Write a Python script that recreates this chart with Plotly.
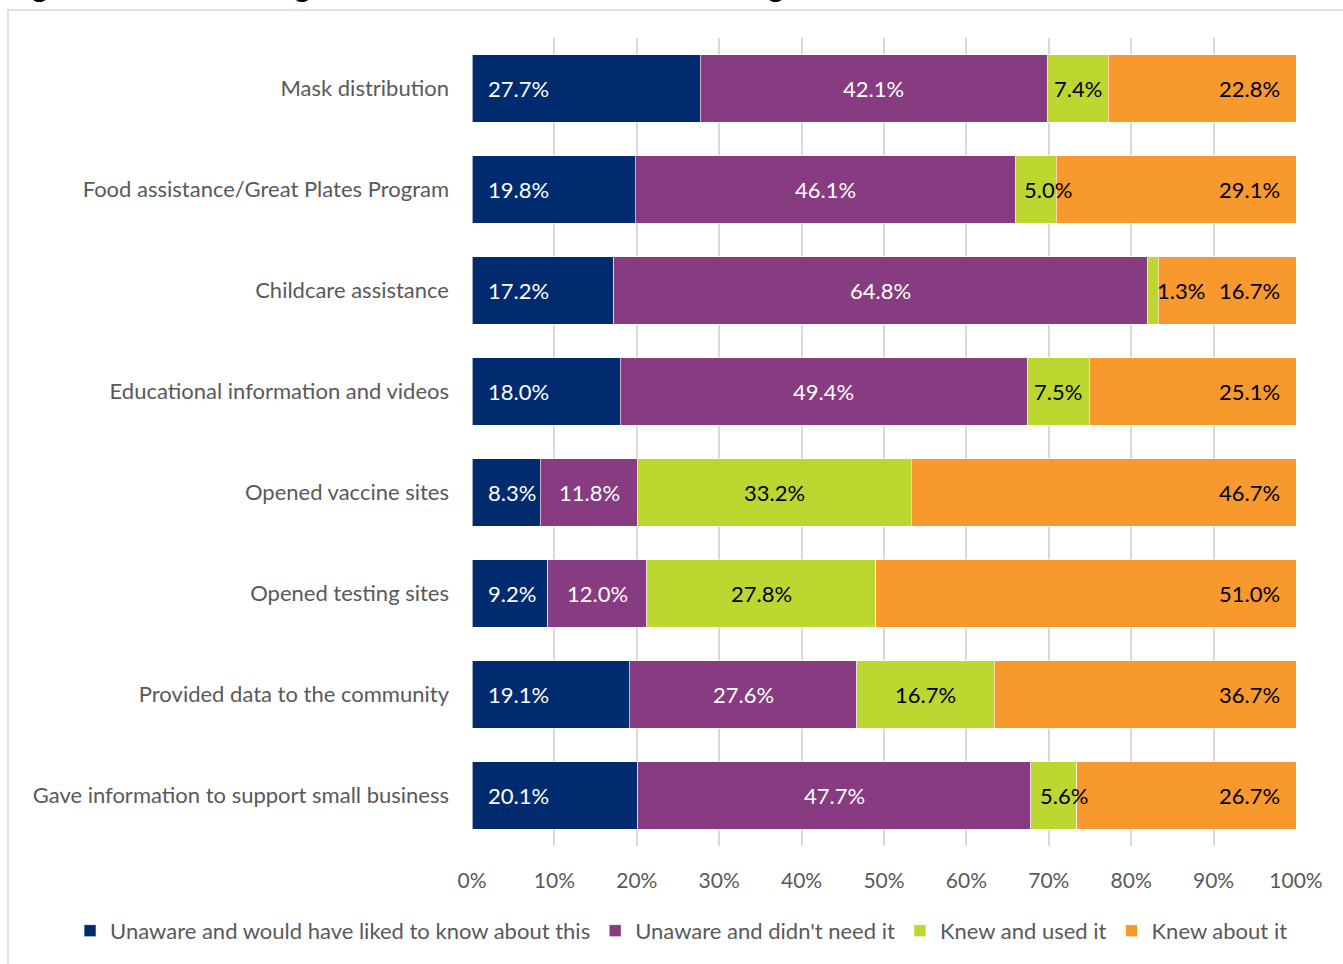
import plotly.graph_objects as go

# Survey items (top to bottom)
categories = [
    "Mask distribution",
    "Food assistance/Great Plates Program",
    "Childcare assistance",
    "Educational information and videos",
    "Opened vaccine sites",
    "Opened testing sites",
    "Provided data to the community",
    "Gave information to support small business",
]

series_names = [
    "Unaware and would have liked to know about this",
    "Unaware and didn't need it",
    "Knew and used it",
    "Knew about it",
]

unaware_wanted = [27.7, 19.8, 17.2, 18.0, 8.3, 9.2, 19.1, 20.1]
unaware_no_need = [42.1, 46.1, 64.8, 49.4, 11.8, 12.0, 27.6, 47.7]
knew_used = [7.4, 5.0, 1.3, 7.5, 33.2, 27.8, 16.7, 5.6]
knew_about = [22.8, 29.1, 16.7, 25.1, 46.7, 51.0, 36.7, 26.7]

tick_vals = [0, 10, 20, 30, 40, 50, 60, 70, 80, 90, 100]
tick_text = ["0%", "10%", "20%", "30%", "40%", "50%", "60%", "70%", "80%", "90%", "100%"]

series_values = [unaware_wanted, unaware_no_need, knew_used, knew_about]
colors = ["#002B6F", "#873B80", "#BDD731", "#F7992D"]
label_colors = ["white", "white", "black", "black"]
# where each series' value label sits inside its segment
label_modes = ["base", "center", "center", "end"]

FONT = "Lato"
PLOT_W = 824          # pixel width of the plotting area (0..100 %)
LABEL_W = 50         # approximate pixel width of a "xx.x%" label

fig = go.Figure()

for name, vals, col in zip(series_names, series_values, colors):
    fig.add_trace(go.Bar(
        y=categories, x=vals, name=name, orientation="h",
        marker=dict(color=col, line=dict(color="rgba(255,255,255,0.6)", width=1)),
        width=0.67, hoverinfo="skip",
    ))

# value labels placed from the stacked data
annotations = []
for i, cat in enumerate(categories):
    start = 0.0
    for vals, tcol, mode in zip(series_values, label_colors, label_modes):
        v = vals[i]
        end = start + v
        if mode == "base":
            x, anchor, shift = start, "left", 14
        elif mode == "end":
            x, anchor, shift = min(end, 100), "right", -14
        elif v / 100 * PLOT_W < LABEL_W:
            # narrow segment: label starts just inside and runs past it
            x, anchor, shift = start, "left", 7
        else:
            x, anchor, shift = (start + end) / 2, "center", 0
        annotations.append(dict(
            x=x, y=cat, xref="x", yref="y", text=f"{v:.1f}%", showarrow=False,
            xanchor=anchor, xshift=shift, font=dict(family=FONT, size=22, color=tcol),
        ))
        start = end

# figure caption above the frame (mostly outside the page)
annotations.append(dict(
    x=-0.5675, y=1.0397, xref="paper", yref="paper", xanchor="left", yanchor="bottom",
    text="<i>Figure 30: Knowledge of Public Health Efforts during COVID-19</i>",
    showarrow=False, font=dict(family=FONT, size=36, color="black"),
))

fig.update_layout(
    barmode="stack",
    width=1343, height=964,
    margin=dict(l=472, r=47, t=38, b=118, pad=0, autoexpand=False),
    paper_bgcolor="white", plot_bgcolor="white",
    font=dict(family=FONT, size=22, color="#595959"),
    bargap=0.33,
    showlegend=True,
    legend=dict(
        orientation="h", traceorder="normal",
        x=-0.4878, xanchor="left", y=-0.105, yanchor="middle",
        font=dict(family=FONT, size=22, color="#595959"),
        itemwidth=30, tracegroupgap=0,
    ),
    annotations=annotations,
    shapes=[
        dict(type="rect", xref="paper", yref="paper",
             x0=-0.5631, x1=1.2, y0=-0.3, y1=1.0347,
             line=dict(color="#D9D9D9", width=1.5), fillcolor="rgba(0,0,0,0)", layer="below"),
    ],
)

fig.update_xaxes(
    range=[0, 100], tickvals=tick_vals, ticktext=tick_text,
    showgrid=True, gridcolor="#D9D9D9", gridwidth=2,
    zeroline=False, showline=False,
    ticks="", ticklabelstandoff=20,
    tickfont=dict(family=FONT, size=21, color="#595959"),
    fixedrange=True,
)
fig.update_yaxes(
    autorange="reversed", showgrid=False, zeroline=False, showline=False,
    ticks="", ticklabelstandoff=22,
    tickfont=dict(family=FONT, size=22, color="#595959"),
    fixedrange=True,
)

fig.write_html("out.html")
